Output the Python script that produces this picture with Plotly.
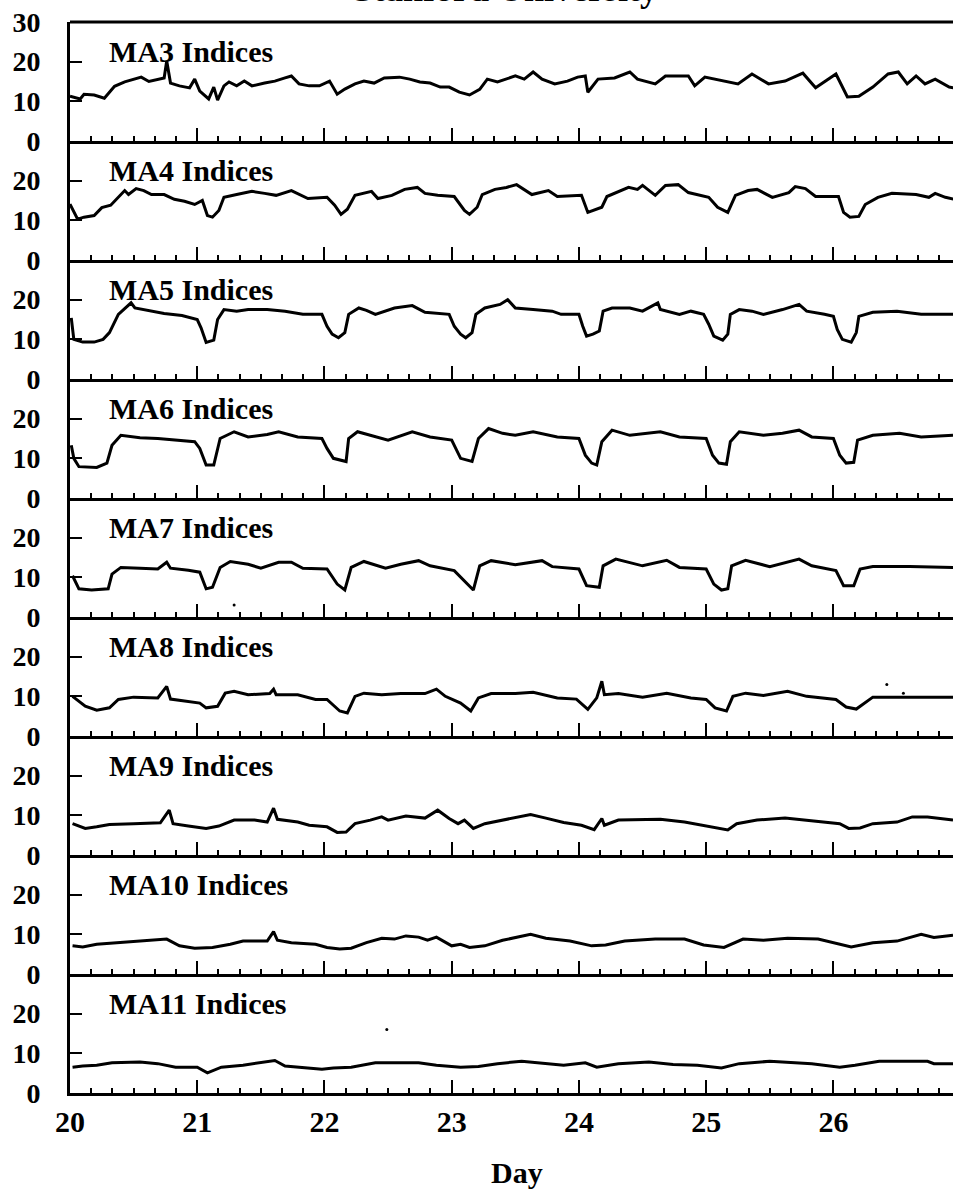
import plotly.graph_objects as go
from plotly.subplots import make_subplots

# ---- series: day of month vs. index value ----
ma3_day = [20.0, 20.08, 20.11, 20.19, 20.27, 20.35, 20.43, 20.5, 20.56, 20.62, 20.7, 20.74, 20.76, 20.79,
           20.86, 20.94, 20.98, 21.02, 21.09, 21.13, 21.16, 21.21, 21.25, 21.31, 21.37, 21.43, 21.53, 21.61,
           21.69, 21.74, 21.8, 21.88, 21.96, 22.04, 22.1, 22.16, 22.24, 22.31, 22.39, 22.47, 22.59, 22.67,
           22.75, 22.83, 22.91, 22.98, 23.06, 23.14, 23.22, 23.28, 23.36, 23.5, 23.57, 23.64, 23.71, 23.81,
           23.91, 23.99, 24.05, 24.07, 24.15, 24.28, 24.4, 24.46, 24.6, 24.68, 24.86, 24.91, 24.99, 25.13,
           25.25, 25.36, 25.49, 25.62, 25.76, 25.86, 25.94, 26.02, 26.11, 26.2, 26.31, 26.43, 26.51, 26.58,
           26.65, 26.72, 26.8, 26.91, 26.95]
ma3_val = [11.3, 10.6, 11.8, 11.6, 10.8, 13.8, 14.9, 15.6, 16.1, 15.0, 15.6, 15.9, 20.2, 14.6,
           13.9, 13.4, 15.6, 12.6, 10.6, 13.6, 10.3, 13.9, 14.9, 13.9, 15.1, 13.9, 14.6, 15.1,
           15.9, 16.4, 14.4, 13.9, 13.9, 15.1, 11.8, 13.1, 14.4, 15.1, 14.6, 15.9, 16.1, 15.6,
           14.9, 14.6, 13.6, 13.6, 12.3, 11.6, 13.0, 15.6, 14.9, 16.4, 15.6, 17.4, 15.6, 14.4,
           15.1, 16.1, 16.4, 12.3, 15.6, 15.9, 17.4, 15.6, 14.4, 16.4, 16.4, 13.9, 16.1, 15.1,
           14.4, 16.9, 14.4, 15.1, 17.1, 13.4, 15.1, 16.9, 11.1, 11.3, 13.6, 16.9, 17.4, 14.4,
           16.4, 14.4, 15.6, 13.6, 13.4]

ma4_day = [20.0, 20.06, 20.11, 20.19, 20.25, 20.32, 20.43, 20.46, 20.52, 20.58, 20.64, 20.74, 20.82, 20.9,
           20.98, 21.04, 21.08, 21.12, 21.17, 21.21, 21.31, 21.43, 21.53, 21.62, 21.74, 21.87, 22.02, 22.08,
           22.13, 22.18, 22.24, 22.37, 22.42, 22.53, 22.63, 22.73, 22.79, 22.89, 23.02, 23.1, 23.14, 23.2,
           23.24, 23.34, 23.43, 23.51, 23.63, 23.76, 23.83, 24.02, 24.07, 24.18, 24.22, 24.39, 24.46, 24.5,
           24.6, 24.68, 24.78, 24.86, 25.02, 25.09, 25.17, 25.23, 25.33, 25.4, 25.52, 25.65, 25.7, 25.78,
           25.86, 26.04, 26.08, 26.13, 26.2, 26.25, 26.35, 26.46, 26.65, 26.75, 26.8, 26.88, 26.95]
ma4_val = [14.1, 10.3, 10.8, 11.2, 13.2, 13.8, 17.5, 16.5, 18.0, 17.5, 16.5, 16.5, 15.3, 14.8,
           14.0, 15.0, 11.2, 10.8, 12.5, 15.8, 16.5, 17.3, 16.8, 16.3, 17.5, 15.5, 15.8, 13.8,
           11.5, 12.8, 16.3, 17.3, 15.5, 16.3, 17.8, 18.3, 16.8, 16.3, 16.0, 12.5, 11.5, 13.3,
           16.5, 17.8, 18.3, 19.0, 16.5, 17.5, 16.0, 16.3, 12.0, 13.3, 16.0, 18.3, 17.8, 18.8,
           16.3, 18.8, 19.0, 17.0, 15.8, 13.3, 12.0, 16.3, 17.5, 17.8, 15.8, 17.0, 18.5, 18.0,
           16.0, 16.0, 12.0, 10.8, 11.0, 14.0, 15.8, 16.8, 16.5, 15.8, 16.8, 15.8, 15.3]

ma5_day = [20.01, 20.03, 20.10, 20.19, 20.26, 20.31, 20.38, 20.48, 20.51, 20.57, 20.64, 20.74, 20.88, 21.00,
           21.03, 21.07, 21.13, 21.16, 21.21, 21.31, 21.40, 21.55, 21.69, 21.83, 21.98, 22.02, 22.06, 22.11,
           22.16, 22.19, 22.27, 22.33, 22.40, 22.55, 22.69, 22.79, 22.98, 23.02, 23.07, 23.11, 23.16, 23.19,
           23.26, 23.38, 23.44, 23.50, 23.64, 23.79, 23.86, 24.00, 24.03, 24.06, 24.11, 24.16, 24.19, 24.26,
           24.40, 24.50, 24.62, 24.64, 24.79, 24.88, 24.98, 25.02, 25.06, 25.13, 25.17, 25.19, 25.26, 25.36,
           25.45, 25.60, 25.73, 25.79, 25.93, 26.00, 26.03, 26.07, 26.14, 26.18, 26.20, 26.31, 26.50, 26.60,
           26.69, 26.94]
ma5_val = [15.4, 10.0, 9.3, 9.3, 10.0, 11.7, 16.3, 19.2, 17.9, 17.5, 17.1, 16.5, 16.0, 15.0,
           12.9, 9.2, 9.8, 15.0, 17.5, 17.1, 17.5, 17.5, 17.1, 16.3, 16.3, 13.3, 11.3, 10.4,
           11.7, 16.3, 17.9, 17.3, 16.3, 17.9, 18.5, 16.8, 16.3, 13.3, 11.3, 10.4, 11.7, 16.3,
           17.9, 18.8, 20.0, 17.9, 17.5, 17.1, 16.3, 16.3, 13.3, 10.8, 11.3, 12.1, 17.1, 17.9,
           17.9, 17.1, 19.2, 17.5, 16.3, 17.1, 16.3, 13.8, 10.8, 9.8, 11.3, 16.3, 17.5, 17.1,
           16.3, 17.5, 18.8, 17.1, 16.3, 15.8, 12.5, 10.0, 9.3, 11.7, 15.8, 16.8, 17.1, 16.7,
           16.3, 16.3]

ma6_day = [20.01, 20.03, 20.07, 20.21, 20.29, 20.33, 20.40, 20.55, 20.69, 20.83, 20.98, 21.02, 21.07, 21.13,
           21.18, 21.29, 21.40, 21.55, 21.64, 21.79, 21.98, 22.02, 22.07, 22.17, 22.19, 22.26, 22.36, 22.50,
           22.69, 22.83, 23.00, 23.07, 23.16, 23.21, 23.29, 23.40, 23.50, 23.64, 23.83, 24.00, 24.05, 24.10,
           24.14, 24.18, 24.26, 24.40, 24.64, 24.79, 25.00, 25.05, 25.10, 25.16, 25.19, 25.26, 25.45, 25.60,
           25.73, 25.83, 26.00, 26.05, 26.10, 26.16, 26.19, 26.31, 26.52, 26.69, 26.94]
ma6_val = [13.3, 10.0, 7.9, 7.7, 8.8, 13.3, 15.8, 15.2, 15.0, 14.6, 14.2, 12.5, 8.3, 8.3,
           15.0, 16.7, 15.4, 16.0, 16.7, 15.4, 15.0, 12.5, 10.0, 9.2, 15.0, 16.7, 15.8, 14.6,
           16.7, 15.4, 14.6, 10.0, 9.2, 15.0, 17.5, 16.3, 15.8, 16.7, 15.4, 15.0, 10.8, 8.8,
           8.3, 14.2, 17.1, 15.8, 16.7, 15.4, 15.0, 10.8, 8.8, 8.5, 14.2, 16.7, 15.8, 16.3,
           17.1, 15.4, 15.0, 10.8, 8.8, 9.0, 14.6, 15.8, 16.3, 15.4, 15.8]

ma7_day = [20.02, 20.07, 20.17, 20.30, 20.33, 20.40, 20.55, 20.69, 20.76, 20.79, 20.93, 21.02, 21.07, 21.12,
           21.18, 21.26, 21.40, 21.50, 21.64, 21.74, 21.83, 22.02, 22.10, 22.16, 22.21, 22.31, 22.48, 22.60,
           22.74, 22.83, 23.02, 23.10, 23.17, 23.22, 23.31, 23.50, 23.71, 23.79, 24.00, 24.06, 24.16, 24.19,
           24.29, 24.50, 24.69, 24.79, 25.00, 25.06, 25.12, 25.17, 25.20, 25.31, 25.50, 25.73, 25.83, 26.02,
           26.08, 26.16, 26.21, 26.31, 26.60, 26.94]
ma7_val = [10.4, 7.1, 6.8, 7.1, 10.8, 12.5, 12.3, 12.1, 13.8, 12.3, 11.8, 11.3, 7.1, 7.5,
           12.5, 14.0, 13.3, 12.3, 13.8, 13.8, 12.3, 12.1, 8.3, 6.8, 12.5, 14.0, 12.3, 13.3,
           14.2, 12.9, 11.7, 9.2, 6.8, 12.9, 14.2, 13.2, 14.2, 12.7, 12.1, 7.9, 7.5, 12.9,
           14.6, 12.9, 14.3, 12.5, 12.1, 8.3, 6.8, 7.1, 12.9, 14.3, 12.7, 14.6, 12.9, 11.7,
           7.9, 7.9, 12.1, 12.7, 12.7, 12.5]

ma8_day = [20.02, 20.12, 20.21, 20.31, 20.38, 20.50, 20.69, 20.76, 20.79, 20.93, 21.02, 21.07, 21.16, 21.22,
           21.29, 21.40, 21.57, 21.60, 21.62, 21.79, 21.93, 22.02, 22.12, 22.18, 22.24, 22.31, 22.45, 22.60,
           22.79, 22.88, 22.95, 23.07, 23.15, 23.21, 23.31, 23.50, 23.64, 23.83, 23.98, 24.07, 24.14, 24.18,
           24.20, 24.31, 24.50, 24.69, 24.88, 25.00, 25.07, 25.16, 25.21, 25.31, 25.45, 25.64, 25.79, 26.02,
           26.10, 26.18, 26.31, 26.94]
ma8_val = [10.0, 7.5, 6.5, 7.1, 9.2, 9.8, 9.6, 12.5, 9.3, 8.8, 8.3, 7.1, 7.5, 10.8,
           11.3, 10.4, 10.7, 11.8, 10.4, 10.4, 9.2, 9.2, 6.3, 5.8, 10.0, 10.8, 10.4, 10.7,
           10.7, 11.8, 10.0, 8.3, 6.3, 9.6, 10.7, 10.7, 11.0, 9.6, 9.3, 6.7, 9.6, 13.8,
           10.4, 10.7, 9.8, 10.8, 9.6, 9.2, 7.1, 6.3, 10.0, 10.8, 10.2, 11.3, 10.0, 9.2,
           7.3, 6.8, 9.8, 9.8]

ma9_day = [20.02, 20.12, 20.21, 20.31, 20.50, 20.71, 20.78, 20.81, 20.93, 21.07, 21.17, 21.29, 21.45, 21.55,
           21.60, 21.63, 21.79, 21.88, 22.02, 22.10, 22.17, 22.24, 22.36, 22.45, 22.50, 22.64, 22.79, 22.89,
           22.98, 23.05, 23.10, 23.17, 23.26, 23.40, 23.62, 23.74, 23.88, 24.02, 24.12, 24.18, 24.20, 24.31,
           24.64, 24.83, 25.02, 25.17, 25.24, 25.40, 25.62, 25.79, 26.05, 26.12, 26.21, 26.31, 26.50, 26.62,
           26.74, 26.94]
ma9_val = [7.9, 6.7, 7.1, 7.7, 7.9, 8.1, 11.3, 7.9, 7.3, 6.7, 7.3, 8.8, 8.8, 8.3,
           11.8, 9.0, 8.3, 7.5, 7.1, 5.7, 5.8, 7.9, 8.8, 9.6, 8.8, 9.8, 9.3, 11.3,
           9.2, 7.9, 8.8, 6.7, 7.9, 8.8, 10.2, 9.3, 8.2, 7.5, 6.4, 9.2, 7.5, 8.8,
           9.0, 8.3, 7.1, 6.3, 7.9, 8.8, 9.3, 8.8, 7.9, 6.7, 6.8, 7.9, 8.3, 9.6,
           9.6, 8.8]

ma10_day = [20.02, 20.10, 20.21, 20.40, 20.60, 20.76, 20.86, 20.98, 21.12, 21.26, 21.36, 21.55, 21.60, 21.63,
            21.74, 21.83, 21.93, 22.02, 22.12, 22.21, 22.33, 22.45, 22.55, 22.64, 22.74, 22.81, 22.88, 23.00,
            23.07, 23.14, 23.26, 23.40, 23.62, 23.74, 23.93, 24.10, 24.21, 24.36, 24.60, 24.83, 24.98, 25.14,
            25.29, 25.45, 25.64, 25.88, 26.05, 26.14, 26.31, 26.50, 26.69, 26.79, 26.94]
ma10_val = [7.1, 6.8, 7.5, 7.9, 8.3, 8.8, 7.1, 6.5, 6.7, 7.5, 8.3, 8.3, 10.7, 8.5,
            7.9, 7.7, 7.5, 6.7, 6.3, 6.5, 7.9, 9.0, 8.8, 9.6, 9.3, 8.5, 9.3, 7.1,
            7.5, 6.7, 7.1, 8.5, 10.0, 9.0, 8.3, 7.1, 7.3, 8.3, 8.8, 8.8, 7.3, 6.7,
            8.8, 8.5, 9.0, 8.8, 7.5, 6.8, 7.9, 8.3, 10.0, 9.2, 9.8]

ma11_day = [20.02, 20.10, 20.21, 20.33, 20.55, 20.69, 20.83, 21.00, 21.08, 21.19, 21.36, 21.50, 21.61, 21.69,
            21.83, 21.98, 22.07, 22.21, 22.40, 22.74, 22.88, 23.07, 23.21, 23.36, 23.55, 23.74, 23.88, 24.05,
            24.14, 24.31, 24.55, 24.74, 24.93, 25.12, 25.26, 25.50, 25.64, 25.83, 26.05, 26.17, 26.36, 26.74,
            26.79, 26.94]
ma11_val = [6.5, 6.8, 7.0, 7.6, 7.8, 7.4, 6.5, 6.5, 5.1, 6.5, 7.0, 7.6, 8.2, 6.8,
            6.5, 6.0, 6.3, 6.5, 7.6, 7.6, 7.0, 6.5, 6.7, 7.4, 8.0, 7.4, 7.0, 7.6,
            6.5, 7.4, 7.8, 7.2, 7.0, 6.3, 7.4, 8.0, 7.8, 7.4, 6.5, 7.0, 8.0, 8.0,
            7.4, 7.4]

# isolated single readings (not joined to the traces)
ma7_pt_day, ma7_pt_val = [21.29], [3.0]
ma8_pt_day, ma8_pt_val = [26.42, 26.55], [13.0, 10.8]
ma11_pt_day, ma11_pt_val = [22.49], [16.0]

panel_names = ["MA3 Indices", "MA4 Indices", "MA5 Indices", "MA6 Indices", "MA7 Indices",
               "MA8 Indices", "MA9 Indices", "MA10 Indices", "MA11 Indices"]
panel_days = [ma3_day, ma4_day, ma5_day, ma6_day, ma7_day, ma8_day, ma9_day, ma10_day, ma11_day]
panel_vals = [ma3_val, ma4_val, ma5_val, ma6_val, ma7_val, ma8_val, ma9_val, ma10_val, ma11_val]
stray_points = {5: (ma7_pt_day, ma7_pt_val), 6: (ma8_pt_day, ma8_pt_val), 9: (ma11_pt_day, ma11_pt_val)}

day_ticks = [20, 21, 22, 23, 24, 25, 26]
x_range = [20, 26.94]

FONT = "Liberation Serif"
PAD = "\u00a0\u00a0\u00a0"   # keeps the value labels clear of the left axis
N = len(panel_names)

fig = make_subplots(rows=N, cols=1, shared_xaxes=True, vertical_spacing=0)

for i in range(N):
    row = i + 1
    fig.add_trace(go.Scatter(x=panel_days[i], y=panel_vals[i], mode="lines",
                             line=dict(color="black", width=3), showlegend=False),
                  row=row, col=1)
    if row in stray_points:
        d, v = stray_points[row]
        fig.add_trace(go.Scatter(x=d, y=v, mode="markers",
                                 marker=dict(color="black", size=3), showlegend=False),
                      row=row, col=1)

    # day axis: long inward ticks each day, short ones every 4 hours
    fig.update_xaxes(row=row, col=1, range=x_range, showgrid=False, zeroline=False,
                     showline=True, linecolor="black", linewidth=3,
                     ticks="inside", ticklen=13, tickwidth=2, tickcolor="black",
                     tickmode="array", tickvals=day_ticks,
                     minor=dict(ticks="inside", dtick=1 / 6, tick0=20, ticklen=5,
                                tickwidth=2, tickcolor="black"),
                     showticklabels=(row == N),
                     tickfont=dict(family=FONT, size=30, color="black", weight="bold"))

    yt = [0, 10, 20, 30] if row == 1 else [0, 10, 20]
    fig.update_yaxes(row=row, col=1, range=[0, 30], showgrid=False, zeroline=False,
                     showline=True, linecolor="black", linewidth=3,
                     ticks="inside", ticklen=12, tickwidth=2, tickcolor="black",
                     tickmode="array", tickvals=yt, ticktext=[f"{t}{PAD}" for t in yt],
                     tickfont=dict(family=FONT, size=28, color="black", weight="bold"))

    yref = "y domain" if row == 1 else f"y{row} domain"
    fig.add_annotation(text=panel_names[i], xref="paper", x=0.042, xanchor="left",
                       yref=yref, y=0.748, yanchor="middle", showarrow=False,
                       font=dict(family=FONT, size=30, color="black", weight="bold"))

# top frame line of the first panel
fig.add_shape(type="line", xref="paper", yref="paper", x0=0, x1=1, y0=1, y1=1,
              line=dict(color="black", width=3))

fig.add_annotation(text="Day", xref="paper", x=0.506, xanchor="center",
                   yref="paper", y=-0.0738, yanchor="middle", showarrow=False,
                   font=dict(family=FONT, size=30, color="black", weight="bold"))

fig.add_annotation(text="Stanford University", xref="paper", x=0.493, xanchor="center",
                   yref="paper", y=1, yanchor="bottom", yshift=11, showarrow=False,
                   font=dict(family=FONT, size=36, color="black", weight="bold"))

fig.update_layout(width=953, height=1191,
                  margin=dict(l=70, r=0, t=22, b=98),
                  paper_bgcolor="white", plot_bgcolor="rgba(0,0,0,0)",
                  showlegend=False,
                  font=dict(family=FONT, color="black"))

fig.write_html("out.html")
